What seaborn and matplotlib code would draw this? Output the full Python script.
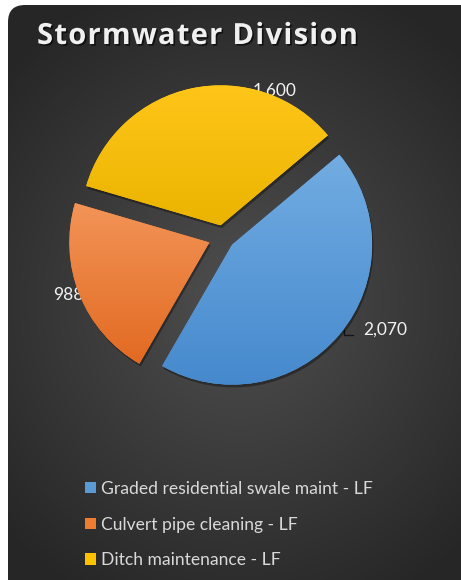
import numpy as np
import matplotlib
matplotlib.use("Agg")
import matplotlib.pyplot as plt
import matplotlib.patheffects as pe
from matplotlib.patches import FancyBboxPatch, Patch
from matplotlib.colors import to_rgb
import seaborn as sns

# ---- data ----
categories = ["Graded residential swale maint - LF",
              "Culvert pipe cleaning - LF",
              "Ditch maintenance - LF"]
values = [2070, 988, 1600]
value_labels = ["2,070", "988", "1,600"]
title = "Stormwater Division"

# ---- style ----
sns.set_theme(style="white")
plt.rcParams['font.family'] = ['Lato', 'DejaVu Sans']

palette = sns.color_palette(["#5B9BD5", "#ED7D31", "#FFC000"])
grad_top = ["#72ACE2", "#F29457", "#FFC61A"]
grad_bot = ["#4589CD", "#E26A22", "#EBB400"]
explode = [0.085, 0.105, 0.085]
label_px = [(385, 330), (68, 295), (275, 91)]   # label centres in pixels

W, H = 461, 580
cx, cy, R = 223, 237, 140

fig = plt.figure(figsize=(W / 100, H / 100), dpi=100)
fig.patch.set_facecolor('white')

# background panel with radial gradient
bg = fig.add_axes([0, 0, 1, 1])
bg.set_xlim(0, W)
bg.set_ylim(H, 0)
bg.axis('off')
yy, xx = np.mgrid[0:H, 0:W]
d = np.sqrt(((xx - 240) / 320) ** 2 + ((yy - 300) / 340) ** 2)
g = np.clip(d, 0, 1)
c0, c1 = 0.31, 0.15
img = c0 + (c1 - c0) * g
rgb = np.dstack([img] * 3)
im = bg.imshow(rgb, extent=(0, W, H, 0), zorder=0, interpolation='bilinear')
frame = FancyBboxPatch((8, 5), W + 10, H + 20,
                       boxstyle="round,pad=0,rounding_size=17",
                       transform=bg.transData, facecolor='none', edgecolor='none')
bg.add_patch(frame)
im.set_clip_path(frame)

# title with letter spacing
renderer = fig.canvas.get_renderer()
tkw = dict(va='baseline', ha='left', fontsize=21, fontweight='bold',
           family=['Open Sans', 'DejaVu Sans'], color='#f0f0f0')
def prefix_width(s):
    if not s:
        return 0.0
    t = bg.text(0, 0, s + "|", **tkw)
    w1 = t.get_window_extent(renderer).width
    t.remove()
    t = bg.text(0, 0, "|", **tkw)
    w2 = t.get_window_extent(renderer).width
    t.remove()
    return w1 - w2
full_w = prefix_width(title)
target_w = 321
spacing = (target_w - full_w) / (len(title) - 1)
x_start = 37
for i, ch in enumerate(title):
    if ch == ' ':
        continue
    x = x_start + prefix_width(title[:i]) + spacing * i
    bg.text(x, 44, ch, **tkw,
            path_effects=[pe.withSimplePatchShadow(offset=(1.2, -1.2),
                                                   shadow_rgbFace='black', alpha=0.6)])

# pie
ax = fig.add_axes([0, 0, 1, 1])
ax.patch.set_alpha(0)
wedges, _ = ax.pie(values, colors=palette, startangle=40, counterclock=False,
                   explode=explode, radius=1, wedgeprops=dict(linewidth=0))
ax.set_aspect('auto')
ax.axis('off')

for w, ct, cb in zip(wedges, grad_top, grad_bot):
    w.set_path_effects([pe.SimplePatchShadow(offset=(1, -2), shadow_rgbFace='black', alpha=0.35),
                        pe.Normal()])
    verts = w.get_path().vertices
    x0, x1 = verts[:, 0].min(), verts[:, 0].max()
    y0, y1 = verts[:, 1].min(), verts[:, 1].max()
    t = np.linspace(0, 1, 100)[:, None]
    a, b = np.array(to_rgb(ct)), np.array(to_rgb(cb))
    grad = (a[None, :] * (1 - t) + b[None, :] * t)[:, None, :]
    gi = ax.imshow(grad, extent=(x0, x1, y0, y1), origin='upper', aspect='auto',
                   zorder=w.get_zorder() + 0.1, interpolation='bilinear')
    gi.set_clip_path(w)

ax.set_xlim(-cx / R, (W - cx) / R)
ax.set_ylim((cy - H) / R, cy / R)

# data labels
for (px, py), lab in zip(label_px, value_labels):
    bg.text(px, py, lab, ha='center', va='center', fontsize=12.5, color='#f2f2f2', zorder=5)
# leader line for the 2,070 label
bg.plot([344, 344, 353], [330, 335, 335], color='#151515', lw=1, zorder=5)

# legend
handles = [Patch(facecolor=c, edgecolor='none') for c in palette]
leg = bg.legend(handles, categories, loc='upper left', bbox_to_anchor=(85, 481),
                bbox_transform=bg.transData, frameon=False, fontsize=12.6,
                labelcolor='#d9d9d9', handlelength=0.6, handleheight=0.6,
                handletextpad=0.32, labelspacing=1.12, borderpad=0, borderaxespad=0)

fig.savefig('out.png', dpi=100)
